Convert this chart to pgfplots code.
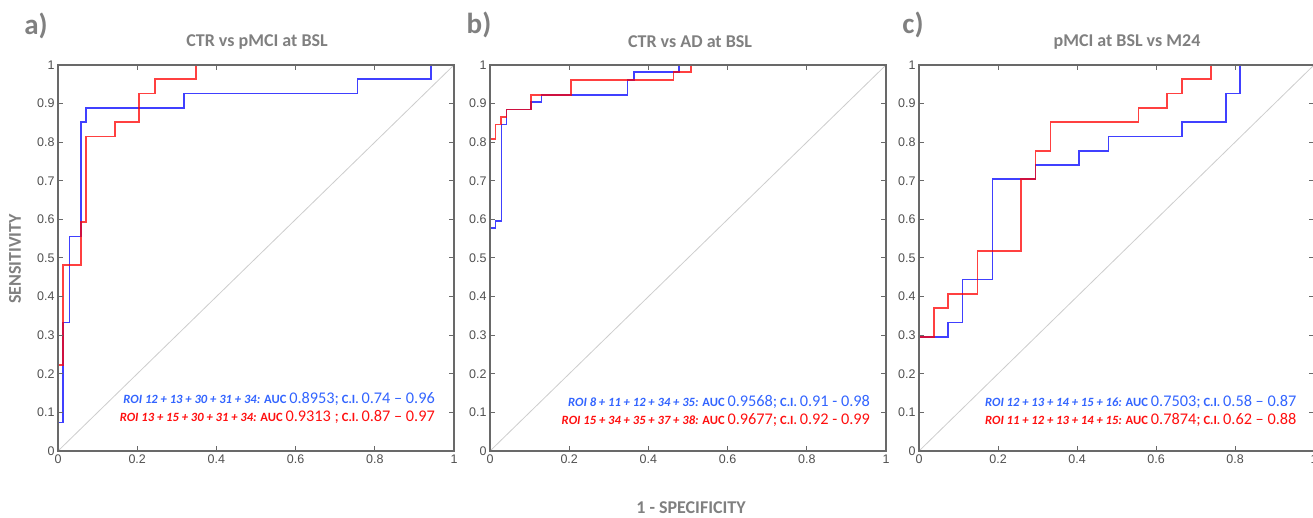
\documentclass[border=0pt]{standalone}
\usepackage{pgfplots}
\pgfplotsset{compat=1.18}
\usepackage{fontspec}
\setmainfont{Carlito}
\newfontfamily\tickfont{Liberation Sans}

\definecolor{txtgray}{RGB}{128,128,128}
\definecolor{framegray}{RGB}{105,105,105}
\definecolor{tickgray}{RGB}{80,80,80}
\definecolor{rocblue}{RGB}{0,0,255}
\definecolor{rocred}{RGB}{255,0,0}
\definecolor{annblue}{RGB}{50,100,255}
\definecolor{annred}{RGB}{255,15,15}
\definecolor{diaggray}{RGB}{205,205,205}

\newcommand{\roi}[1]{{\bfseries\itshape #1}}
\newcommand{\bn}[1]{{\fontsize{16.3}{17}\selectfont #1}}

\pgfplotsset{
  roc/.style={
    scale only axis, width=396pt, height=386pt,
    xmin=0, xmax=1, ymin=0, ymax=1,
    xtick={0,0.2,0.4,0.6,0.8,1},
    ytick={0,0.1,0.2,0.3,0.4,0.5,0.6,0.7,0.8,0.9,1},
    xticklabels={0,0.2,0.4,0.6,0.8,1},
    yticklabels={0,0.1,0.2,0.3,0.4,0.5,0.6,0.7,0.8,0.9,1},
    tick align=inside, major tick length=5pt,
    axis line style={framegray, line width=1.6pt},
    tick style={framegray, line width=1pt},
    ticklabel style={font=\tickfont\fontsize{12.5}{13}\selectfont, text=tickgray},
    axis on top,
  },
  blueroc/.style={rocblue, line width=1.7pt, opacity=0.75, const plot},
  redroc/.style={rocred, line width=1.7pt, opacity=0.75, const plot},
}
\tikzset{ann/.style={anchor=base east, font=\fontsize{12.6}{13}\selectfont, inner sep=0pt}}

\begin{document}
\begin{tikzpicture}[x=1pt, y=1pt]
\useasboundingbox (0,0) rectangle (1313,517);

% a)
\begin{axis}[roc, at={(58pt,66pt)}]
\addplot[diaggray, line width=0.8pt] coordinates {(0,0) (1,1)};
\addplot[blueroc] table {
0 0
0 0.074
0.013 0.333
0.029 0.556
0.058 0.852
0.071 0.889
0.319 0.926
0.756 0.963
0.942 1
1 1
};
\addplot[redroc] table {
0 0
0 0.222
0.013 0.481
0.058 0.593
0.071 0.815
0.144 0.852
0.204 0.926
0.245 0.963
0.348 1
1 1
};
\node[ann, text=annblue] at (axis cs:0.952,0.122)
  {\roi{ROI 12 + 13 + 30 + 31 + 34:} \textbf{AUC} \bn{0.8953;}\ \textbf{C.I.} \bn{0.74 -- 0.96}};
\node[ann, text=annred] at (axis cs:0.952,0.076)
  {\roi{ROI 13 + 15 + 30 + 31 + 34:} \textbf{AUC} \bn{0.9313 ;} \textbf{C.I.} \bn{0.87 -- 0.97}};
\end{axis}

% b)
\begin{axis}[roc, at={(490pt,66pt)}]
\addplot[diaggray, line width=0.8pt] coordinates {(0,0) (1,1)};
\addplot[blueroc] table {
0 0
0 0.577
0.014 0.596
0.029 0.846
0.042 0.885
0.104 0.904
0.130 0.923
0.347 0.962
0.364 0.981
0.478 1
1 1
};
\addplot[redroc] table {
0 0
0 0.808
0.014 0.846
0.028 0.865
0.042 0.885
0.104 0.923
0.204 0.962
0.463 0.981
0.508 1
1 1
};
\node[ann, text=annblue] at (axis cs:0.96,0.114)
  {\roi{ROI 8 + 11 + 12 + 34 + 35:} \textbf{AUC} \bn{0.9568;}\ \textbf{C.I.}\ \bn{0.91 - 0.98}};
\node[ann, text=annred] at (axis cs:0.96,0.068)
  {\roi{ROI 15 + 34 + 35 + 37 + 38:} \textbf{AUC} \bn{0.9677;}\ \textbf{C.I.}\ \bn{0.92 - 0.99}};
\end{axis}

% c)
\begin{axis}[roc, width=395pt, at={(919pt,66pt)}]
\addplot[diaggray, line width=0.8pt] coordinates {(0,0) (1,1)};
\addplot[blueroc] table {
0 0
0 0.296
0.074 0.333
0.110 0.444
0.186 0.704
0.295 0.741
0.405 0.778
0.480 0.815
0.666 0.852
0.777 0.926
0.813 1
1 1
};
\addplot[redroc] table {
0 0
0 0.296
0.038 0.370
0.074 0.407
0.148 0.519
0.258 0.704
0.295 0.778
0.333 0.852
0.556 0.889
0.628 0.926
0.666 0.963
0.740 1
1 1
};
\node[ann, text=annblue] at (axis cs:0.956,0.114)
  {\roi{ROI 12 + 13 + 14 + 15 + 16:} \textbf{AUC} \bn{0.7503;}\ \textbf{C.I.} \bn{0.58 -- 0.87}};
\node[ann, text=annred] at (axis cs:0.956,0.068)
  {\roi{ROI 11 + 12 + 13 + 14 + 15:} \textbf{AUC} \bn{0.7874;}\ \textbf{C.I.} \bn{0.62 -- 0.88}};
\end{axis}

% panel letters and titles
\begin{scope}[every node/.style={text=txtgray, font=\bfseries}]
\node[font=\fontsize{29}{29}\selectfont\bfseries] at (36,491) {a)};
\node[font=\fontsize{29}{29}\selectfont\bfseries] at (479,492) {b)};
\node[font=\fontsize{29}{29}\selectfont\bfseries] at (913,492) {c)};
\node[font=\fontsize{18}{18}\selectfont\bfseries] at (257,475) {CTR vs pMCI at BSL};
\node[font=\fontsize{18}{18}\selectfont\bfseries] at (690,475) {CTR vs AD at BSL};
\node[font=\fontsize{18}{18}\selectfont\bfseries] at (1127,475) {pMCI at BSL vs M24};
\node[font=\fontsize{18}{18}\selectfont\bfseries, rotate=90] at (15,258) {SENSITIVITY};
\node[font=\fontsize{18}{18}\selectfont\bfseries] at (691,9) {1 - SPECIFICITY};
\end{scope}
\end{tikzpicture}
\end{document}
